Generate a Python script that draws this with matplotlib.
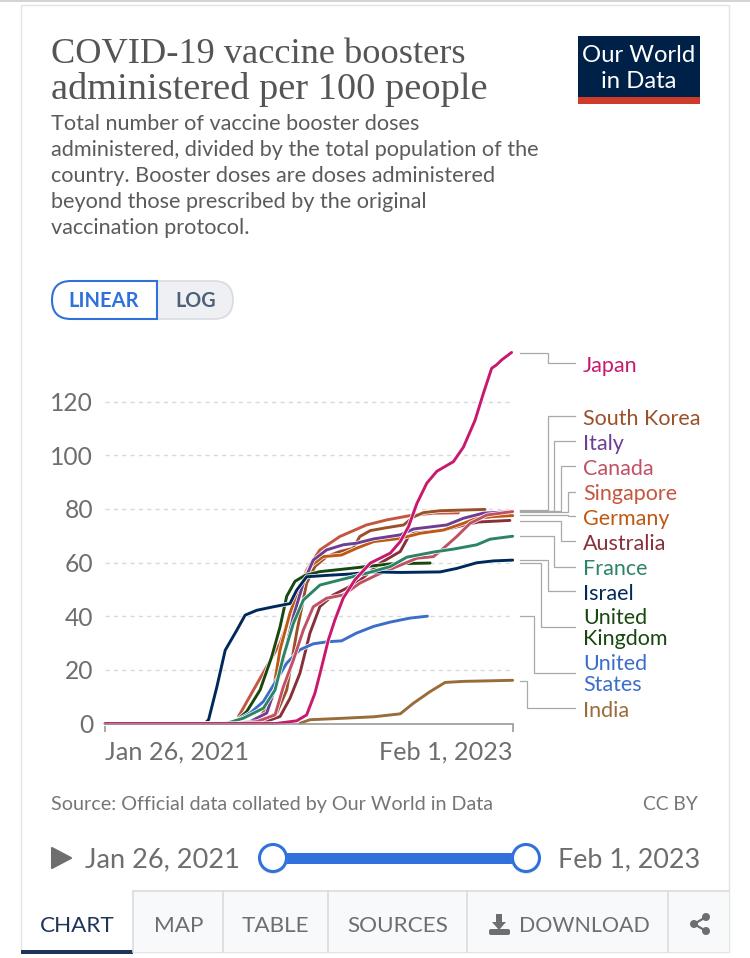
import matplotlib
matplotlib.use("Agg")
import matplotlib.pyplot as plt
import matplotlib.patheffects as pe
from matplotlib.patches import Rectangle, Circle, PathPatch, Polygon, FancyBboxPatch
from matplotlib.path import Path

# ---------- data (days since Jan 26, 2021 / boosters per 100 people) ----------
japan_d = [0, 309, 346, 364, 379, 391, 403, 415, 430, 451, 479, 515, 533, 548, 563, 581, 599, 629, 647, 668, 683, 698, 707, 716, 734]
japan_v = [0, 0, 1, 3.2, 11.3, 21, 31, 38.6, 46.7, 53.5, 59.8, 63.5, 67.8, 73.4, 82, 89.6, 94, 97.6, 103, 113, 123, 132.4, 133.7, 135.5, 138.3]
korea_d = [232, 280, 310, 328, 346, 364, 379, 400, 424, 448, 460, 479, 509, 539, 557, 575, 605, 686]
korea_v = [0, 0.7, 3.9, 12.5, 33.9, 52.3, 58.5, 62.2, 64.1, 65.3, 69.7, 71.9, 73, 74, 77, 78.6, 79.3, 79.8]
singapore_d = [241, 268, 316, 340, 364, 388, 424, 472, 509, 551, 593, 638]
singapore_v = [2.6, 12.5, 29.9, 43.6, 57.2, 64.7, 69.7, 74, 75.9, 77.5, 78.4, 78.5]
germany_d = [232, 274, 301, 316, 334, 352, 370, 394, 427, 454, 485, 533, 569, 611, 647, 671, 701, 736]
germany_v = [0, 0.4, 8.9, 27.5, 41.2, 51, 58.5, 62.2, 62.8, 65.3, 67.8, 69, 70.9, 72.1, 74.6, 76.5, 77.1, 77.5]
italy_d = [232, 262, 292, 316, 340, 358, 376, 400, 430, 454, 485, 533, 557, 617, 647, 683, 736]
italy_v = [0, 0.7, 3.9, 18.8, 39.9, 52.3, 60.9, 64.7, 66.6, 67.2, 68.8, 70.3, 72.5, 74, 76.5, 78.4, 79]
canada_d = [232, 274, 307, 322, 340, 358, 376, 400, 430, 460, 491, 527, 563, 593, 611, 635, 659, 689, 736]
canada_v = [0, 0.7, 3.2, 13.7, 23.6, 34.8, 43.5, 46.7, 47.9, 52.3, 55.4, 58.5, 61.6, 62.2, 65.3, 69.7, 74.6, 77.7, 79]
australia_d = [280, 316, 334, 352, 370, 388, 412, 436, 460, 497, 533, 548, 557, 611, 647, 674, 731]
australia_v = [0, 2.6, 9.4, 18.8, 33.7, 43.6, 47.9, 50.4, 53.3, 59.8, 64.1, 69.7, 70.9, 72.1, 73.9, 75.1, 75.7]
france_d = [0, 172, 220, 250, 286, 307, 322, 340, 358, 388, 424, 472, 515, 545, 593, 629, 671, 695, 736]
france_v = [0, 0, 0.1, 2, 5.7, 12.5, 24.9, 37.3, 46, 51.6, 53.5, 56, 58.5, 62, 63.9, 65, 66.6, 68.7, 69.8]
israel_d = [0, 180, 187, 202, 217, 238, 253, 274, 304, 334, 346, 364, 400, 442, 485, 533, 605, 635, 671, 701, 736]
israel_v = [0, 0, 1.4, 13.7, 27.3, 34.8, 40.4, 42.2, 43.5, 44.7, 49.7, 54.7, 55.2, 55.7, 56.5, 56.3, 56.5, 57.8, 59.9, 60.6, 60.9]
uk_d = [232, 256, 280, 301, 316, 328, 343, 361, 388, 442, 515, 587]
uk_v = [0, 4.5, 12.5, 24.9, 36, 47.4, 53, 55.2, 56.6, 57.8, 59.5, 59.8]
us_d = [232, 262, 286, 310, 328, 352, 376, 403, 427, 454, 485, 515, 551, 582]
us_v = [0.4, 3.9, 8.2, 16.3, 22.5, 27.5, 29.7, 30.5, 30.8, 33.7, 36.2, 37.8, 39.3, 40]
india_d = [352, 370, 424, 485, 533, 557, 587, 614, 647, 736]
india_v = [0.1, 1.4, 1.9, 2.5, 3.6, 7.6, 11.9, 15.3, 15.7, 16.1]

y_ticks = [0, 20, 40, 60, 80, 100, 120]
x_ticks = [0, 736]
x_tick_labels = ["Jan 26, 2021", "Feb 1, 2023"]

title_lines = ["COVID-19 vaccine boosters", "administered per 100 people"]
subtitle_lines = ["Total number of vaccine booster doses",
                  "administered, divided by the total population of the",
                  "country. Booster doses are doses administered",
                  "beyond those prescribed by the original",
                  "vaccination protocol."]

# ---------- style ----------
plt.rcParams['font.family'] = ['Lato', 'DejaVu Sans']
C = dict(japan="#C8196E", korea="#9A5129", singapore="#C4563F", germany="#BE5915",
         italy="#6D3E91", canada="#C15065", australia="#883039", france="#2C8465",
         israel="#00295B", uk="#18470F", us="#3C6EC9", india="#996D39")
BLUE = "#3071DB"
GREY = "#6e6e6e"

fig = plt.figure(figsize=(7.5, 9.58), dpi=100, facecolor="white")

# page chrome, in pixel coordinates
bg = fig.add_axes([0, 0, 1, 1], zorder=0)
bg.set_xlim(0, 750); bg.set_ylim(958, 0); bg.axis("off")

def txt(x, y, s, size, color=GREY, ha="left", va="center", **kw):
    return bg.text(x, y + 1.8, s, fontsize=size, color=color, ha=ha, va=va, **kw)

bg.add_patch(Rectangle((0, 0), 750, 1.5, fc="#d4d4d4", ec="none"))
bg.add_patch(Rectangle((21, 5), 708, 947, fc="white", ec="#e4e4e4", lw=1.0))

# title block
for y, s, size in zip([53, 88], title_lines, [26.2, 27.6]):
    txt(51, y, s, size, color="#555555", family=["Liberation Serif", "DejaVu Serif"])
for y, s in zip([122, 148, 174, 200, 226], subtitle_lines):
    txt(51, y, s, 15.55, color="#5b5b5b")

# logo
bg.add_patch(Rectangle((578, 36), 122, 68, fc="#002147", ec="none"))
bg.add_patch(Rectangle((578, 96.5), 122, 7.5, fc="#CE3B2B", ec="none"))
txt(639, 53.5, "Our World", 17.2, color="white", ha="center")
txt(639, 79.5, "in Data", 17.2, color="white", ha="center")

# linear / log toggle
def pill(x0, x1, y0, y1, left, fc, ec, lw):
    r = (y1 - y0) / 2
    if left:
        v = [(x1, y0), (x0 + r, y0), (x0, y0), (x0, y0 + r), (x0, y1), (x0 + r, y1), (x1, y1), (x1, y0)]
    else:
        v = [(x0, y0), (x1 - r, y0), (x1, y0), (x1, y0 + r), (x1, y1), (x1 - r, y1), (x0, y1), (x0, y0)]
    c = [Path.MOVETO, Path.LINETO, Path.CURVE3, Path.CURVE3, Path.CURVE3, Path.CURVE3, Path.LINETO, Path.CLOSEPOLY]
    bg.add_patch(PathPatch(Path(v, c), fc=fc, ec=ec, lw=lw))
pill(157, 233, 281, 319, False, "#eff0f3", "#d9dbe0", 1.2)
pill(52, 157, 281, 319, True, "white", BLUE, 1.5)
txt(104, 299.5, "LINEAR", 14.5, color=BLUE, ha="center", fontweight="bold")
txt(195.5, 299.5, "LOG", 14.2, color="#4C6079", ha="center", fontweight="bold")

# series labels and connector lines
labels = [
    ("Japan", 364, C["japan"], 352.7, 547.5, 363),
    ("South Korea", 417, C["korea"], 510, 547.5, 416),
    ("Italy", 442, C["italy"], 510.5, 554, 441),
    ("Canada", 467, C["canada"], 511, 561, 466),
    ("Singapore", 492, C["singapore"], 512, 568, 491.5),
    ("Germany", 517, C["germany"], 515, 568, 516),
    ("Australia", 542, C["australia"], 521, 561, 541),
    ("France", 567, C["france"], 536, 554, 566.5),
    ("Israel", 592, C["israel"], 560, 547.5, 591),
    ("United\nKingdom", 627, C["uk"], 563, 541, 627),
    ("United\nStates", 673, C["us"], 616, 534, 673),
    ("India", 709, C["india"], 680.7, 527, 708),
]
for name, ly, col, y0, xm, y1 in labels:
    bg.plot([520, xm, xm, 575], [y0, y0, y1, y1], color="#a8a8a8", lw=0.9, solid_joinstyle="miter")
    txt(583, ly, name, 15.5, color=col, linespacing=1.05)

# footer
txt(51, 802.5, "Source: Official data collated by Our World in Data", 14.2, color="#767676")
txt(698, 802.5, "CC BY", 13.9, color="#767676", ha="right")

# timeline
bg.add_patch(Polygon([(52, 848), (52, 868), (71, 858)], closed=True, fc="#6e6e6e", ec="#6e6e6e", lw=1.5, joinstyle="round"))
txt(85, 858, "Jan 26, 2021", 19.6)
txt(700, 858, "Feb 1, 2023", 19.4, ha="right")
bg.add_patch(Rectangle((273, 852.5), 253, 11, fc=BLUE, ec="none"))
for cx in (273, 526):
    bg.add_patch(Circle((cx, 859.5), 14.5, fc="#d8d8d8", ec="none", alpha=0.6))
    bg.add_patch(Circle((cx, 858), 13.5, fc="white", ec=BLUE, lw=2.2))

# tabs
bg.add_patch(Rectangle((133, 891), 596, 61, fc="#f8f9fb", ec="none"))
bg.plot([133, 729], [891, 891], color="#dcdcdc", lw=1.2)
for x in (133, 223, 328, 467, 668):
    bg.plot([x, x], [891, 952], color="#dcdcdc", lw=1.2)
bg.add_patch(Rectangle((21, 950), 112, 4, fc="#1D3557", ec="none"))
txt(77, 924, "CHART", 16.2, color="#1D3557", ha="center")
txt(178.5, 924, "MAP", 16.2, ha="center")
txt(275.5, 924, "TABLE", 16.2, ha="center")
txt(397.5, 924, "SOURCES", 16.2, ha="center")
txt(519, 924, "DOWNLOAD", 15.4)
# download icon
bg.add_patch(Polygon([(496, 914), (502, 914), (502, 922), (506, 922), (499, 930), (492, 922), (496, 922)],
                     closed=True, fc=GREY, ec="none"))
bg.add_patch(FancyBboxPatch((489, 929), 21, 6, boxstyle="round,pad=0,rounding_size=2", fc=GREY, ec="none"))
# share icon
bg.plot([706, 694, 706], [917, 924, 931], color=GREY, lw=1.6)
for cx, cy, r in [(706, 917, 4), (694, 924, 4), (706, 931, 4)]:
    bg.add_patch(Circle((cx, cy), r, fc=GREY, ec="none"))

# ---------- the chart ----------
PX_PER_UNIT = 2.683
ymax = 140
L, R, B = 105, 512.7, 723.5
H = ymax * PX_PER_UNIT
ax = fig.add_axes([L / 750, (958 - B) / 958, (R - L) / 750, H / 958], zorder=1)
ax.patch.set_alpha(0)
ax.set_xlim(0, 736)
ax.set_ylim(0, ymax)
for s in ("top", "right", "left"):
    ax.spines[s].set_visible(False)
ax.spines["bottom"].set_color("#9a9a9a")
ax.spines["bottom"].set_linewidth(1.2)
ax.set_yticks(y_ticks)
ax.set_xticks(x_ticks)
ax.set_xticklabels(x_tick_labels)
ax.get_xticklabels()[0].set_ha("left")
ax.get_xticklabels()[1].set_ha("right")
ax.tick_params(axis="y", length=0, pad=8.5, labelsize=17.7, labelcolor=GREY)
ax.tick_params(axis="x", length=6, width=1.2, color="#9a9a9a", pad=6.5, labelsize=18.2, labelcolor=GREY)
ax.grid(axis="y", color="#d9d9d9", lw=1.0, ls=(0, (3, 3)))
ax.set_axisbelow(True)
ax.yaxis.get_gridlines()[0].set_visible(False)

series = [
    (india_d, india_v, "india"), (singapore_d, singapore_v, "singapore"),
    (korea_d, korea_v, "korea"), (australia_d, australia_v, "australia"),
    (germany_d, germany_v, "germany"), (italy_d, italy_v, "italy"),
    (uk_d, uk_v, "uk"), (us_d, us_v, "us"), (canada_d, canada_v, "canada"),
    (israel_d, israel_v, "israel"), (france_d, france_v, "france"),
    (japan_d, japan_v, "japan"),
]
for d, v, key in series:
    ax.plot(d, v, color=C[key], lw=2.1, solid_capstyle="round", solid_joinstyle="round",
            clip_on=False,
            path_effects=[pe.Stroke(linewidth=3.1, foreground="white"), pe.Normal()])

fig.savefig("out.png", dpi=100, facecolor="white")
